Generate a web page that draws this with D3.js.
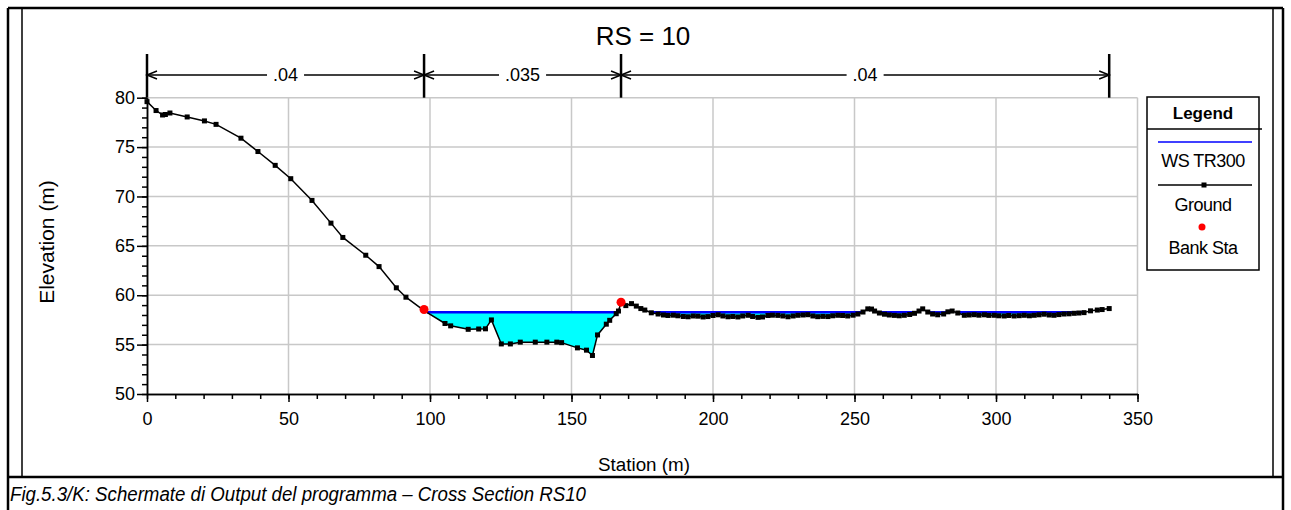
<!DOCTYPE html>
<html>
<head>
<meta charset="utf-8">
<script src="https://cdn.jsdelivr.net/npm/d3@7"></script>
<style>
  html, body { margin: 0; padding: 0; background: #fff; }
  svg { display: block; font-family: "Liberation Sans", Arial, sans-serif; }
</style>
</head>
<body>
<div id="chart"></div>
<script>
// Sezione trasversale RS = 10
const stations = [
  0, 3.2, 5.5, 6.5, 8.1, 14.2, 20.3, 24.4, 33.2, 39.2, 45.3, 50.8, 58.3, 65.0, 69.2, 77.3, 82.0, 88.1, 91.5, 97.9,
  105.3, 107.3, 113.5, 117.2, 119.6, 121.7, 125.2, 128.4, 131.9, 137.2, 141.3, 144.8, 146.5, 152.1, 155.3, 157.4,
  159.2, 162.3, 163.5, 165.8, 166.6, 167.5, 169.2, 171.2, 172.9, 174.5, 175.9, 178.2, 180.6,
  182.5, 184.1, 186.0, 187.6, 189.5, 191.2, 193.0, 194.7, 196.5, 198.2, 200.0, 201.8, 203.5, 205.3, 207.0, 208.8,
  210.5, 212.4, 214.0, 215.9, 217.5, 219.4, 221.0, 222.9, 224.7, 226.5, 228.3, 230.0, 231.8, 233.5, 235.3, 237.0,
  238.8, 240.6, 242.3, 244.1, 245.8, 247.6, 249.5, 251.2, 253.0, 254.7, 256.0, 257.1, 258.8, 260.6, 262.3, 264.1,
  265.8, 267.6, 269.5, 271.2, 272.8, 274.1, 275.9, 277.6, 279.4, 281.5, 283.0, 284.5, 286.5, 288.8, 290.5, 292.3,
  294.0, 295.9, 297.5, 299.4, 301.0, 302.9, 304.5, 306.4, 308.2, 310.0, 311.8, 313.5, 315.2, 317.0, 318.8, 320.5,
  322.2, 324.0, 325.8, 327.6, 329.3, 331.1, 333.4, 335.8, 337.5, 340.0
];
const elevations = [
  79.6, 78.7, 78.25, 78.3, 78.45, 78.05, 77.65, 77.3, 75.9, 74.55, 73.15, 71.8, 69.6, 67.3, 65.85, 64.05, 62.9, 60.75, 59.8, 58.45,
  57.14, 56.9, 56.55, 56.58, 56.6, 57.5, 55.07, 55.07, 55.25, 55.25, 55.25, 55.25, 55.2, 54.67, 54.44, 53.9,
  55.98, 57.07, 57.46, 58.13, 58.4, 59.25, 58.95, 59.15, 58.9, 58.65, 58.5, 58.22, 58.1,
  58.0, 57.95, 57.98, 57.92, 57.85, 57.82, 57.9, 57.88, 57.8, 57.84, 57.95, 58.02, 57.9, 57.82, 57.85, 57.8,
  57.9, 57.97, 57.85, 57.76, 57.8, 57.95, 57.98, 57.96, 57.9, 57.82, 57.9, 57.97, 58.0, 58.03, 57.9, 57.83,
  57.86, 57.84, 57.92, 57.97, 57.95, 57.9, 57.98, 58.1, 58.3, 58.62, 58.6, 58.4, 58.2, 58.08, 58.0, 57.96,
  57.92, 57.97, 58.05, 58.17, 58.4, 58.62, 58.3, 58.1, 58.02, 58.1, 58.32, 58.4, 58.2, 57.97, 58.0, 58.03,
  57.98, 58.02, 57.96, 57.97, 57.92, 57.9, 57.95, 57.9, 57.93, 57.97, 57.92, 57.97, 58.02, 58.08, 58.0, 57.97,
  58.04, 58.1, 58.12, 58.17, 58.2, 58.24, 58.42, 58.5, 58.55, 58.65
];
const bankStations = [97.9, 167.5];
const bankElevations = [58.55, 59.3];
const wsElevation = 58.27;
const nStations = [0, 97.9, 167.5, 340];
const nValues = ['.04', '.035', '.04'];
const xTicks = [0, 50, 100, 150, 200, 250, 300, 350];
const yTicks = [50, 55, 60, 65, 70, 75, 80];
const legendLabels = ['WS TR300', 'Ground', 'Bank Sta'];

const W = 1291, H = 510;
const svg = d3.select("#chart").append("svg")
  .attr("width", W).attr("height", H);

// scale
const x = d3.scaleLinear().domain([0, 350]).range([147, 1137.5]);
const y = d3.scaleLinear().domain([50, 80]).range([394, 97.7]);

const ground = stations.map((s, i) => ({s: s, e: elevations[i]}));

// cornici
svg.append("rect").attr("x", 22).attr("y", 8).attr("width", 1251).attr("height", 469)
  .attr("fill", "none").attr("stroke", "#000").attr("stroke-width", 1.5);
svg.append("path").attr("d", "M8,8H1283M8,477H1283M8,8V512M1283,8V512")
  .attr("fill", "none").attr("stroke", "#000").attr("stroke-width", 2.5);

// griglia
const grid = svg.append("g").attr("stroke", "#c8c8c8").attr("stroke-width", 1.5);
grid.selectAll(".gx").data(xTicks.slice(1)).enter().append("line")
  .attr("x1", d => x(d)).attr("x2", d => x(d)).attr("y1", y(50)).attr("y2", y(80));
grid.selectAll(".gy").data(yTicks.slice(1)).enter().append("line")
  .attr("x1", x(0)).attr("x2", x(350)).attr("y1", d => y(d)).attr("y2", d => y(d));

// zone bagnate (terreno sotto il pelo libero)
function wetRuns(pts, ws) {
  const runs = [];
  let cur = null;
  const cross = (q, p) => ({s: q.s + (q.e - ws) / (q.e - p.e) * (p.s - q.s), e: ws});
  pts.forEach((p, i) => {
    if (p.e < ws) {
      if (!cur) {
        cur = [];
        if (i > 0) cur.push(cross(pts[i - 1], p));
      }
      cur.push(p);
    } else if (cur) {
      cur.push(cross(pts[i - 1], p));
      runs.push(cur);
      cur = null;
    }
  });
  if (cur) runs.push(cur);
  return runs;
}
const runs = wetRuns(ground, wsElevation);

const area = d3.area()
  .x(d => x(d.s))
  .y0(y(wsElevation))
  .y1(d => y(d.e));
svg.append("g").selectAll("path").data(runs).enter().append("path")
  .attr("d", area).attr("fill", "#00ffff");

svg.append("g").selectAll("line").data(runs).enter().append("line")
  .attr("x1", d => x(d[0].s)).attr("x2", d => x(d[d.length - 1].s))
  .attr("y1", y(wsElevation)).attr("y2", y(wsElevation))
  .attr("stroke", "#0000ff").attr("stroke-width", 2.5);

// terreno
const line = d3.line().x(d => x(d.s)).y(d => y(d.e));
svg.append("path").datum(ground)
  .attr("d", line).attr("fill", "none").attr("stroke", "#000").attr("stroke-width", 1.5);
svg.append("g").selectAll("rect").data(ground).enter().append("rect")
  .attr("x", d => x(d.s) - 2.5).attr("y", d => y(d.e) - 2.5)
  .attr("width", 5).attr("height", 5).attr("fill", "#000");

// sponde
svg.append("g").selectAll("circle").data(bankStations).enter().append("circle")
  .attr("cx", d => x(d)).attr("cy", (d, i) => y(bankElevations[i]))
  .attr("r", 4.5).attr("fill", "#ff0000");

// assi
const axisStyle = g => {
  g.select(".domain").attr("stroke", "#000").attr("stroke-width", 1.5);
  g.selectAll(".tick line").attr("stroke", "#000").attr("stroke-width", 1.5);
  g.selectAll("text").attr("fill", "#000").style("font-size", "18px")
    .style("font-family", '"Liberation Sans", Arial, sans-serif');
};
svg.append("g").attr("transform", `translate(${x(0)},0)`)
  .call(d3.axisLeft(y).tickValues(d3.range(50, 81, 1)).tickSize(5).tickFormat("").tickSizeOuter(0))
  .call(axisStyle);
svg.append("g").attr("transform", `translate(${x(0)},0)`)
  .call(d3.axisLeft(y).tickValues(yTicks).tickSize(10).tickPadding(2).tickSizeOuter(0))
  .call(axisStyle);
svg.append("g").attr("transform", `translate(0,${y(50)})`)
  .call(d3.axisBottom(x).tickValues(d3.range(0, 351, 10)).tickSize(5).tickFormat("").tickSizeOuter(0))
  .call(axisStyle);
svg.append("g").attr("transform", `translate(0,${y(50)})`)
  .call(d3.axisBottom(x).tickValues(xTicks).tickSize(8).tickPadding(10).tickSizeOuter(0))
  .call(axisStyle);

svg.append("text").attr("x", 644).attr("y", 471).attr("text-anchor", "middle")
  .style("font-size", "18.8px").text("Station (m)");
svg.append("text").attr("transform", "translate(54,242) rotate(-90)").attr("text-anchor", "middle")
  .style("font-size", "21px").text("Elevation (m)");

// titolo
svg.append("text").attr("x", 643).attr("y", 45).attr("text-anchor", "middle")
  .style("font-size", "26px").text("RS = 10");

// coefficienti di Manning
const dimY = 75;
const dim = svg.append("g");
dim.selectAll(".mark").data(nStations).enter().append("line")
  .attr("x1", d => x(d)).attr("x2", d => x(d)).attr("y1", 54).attr("y2", y(80))
  .attr("stroke", "#000").attr("stroke-width", 2.5);
dim.append("line").attr("x1", x(nStations[0])).attr("x2", x(nStations[nStations.length - 1]))
  .attr("y1", dimY).attr("y2", dimY).attr("stroke", "#000").attr("stroke-width", 1.5);
nValues.forEach((v, i) => {
  const a = x(nStations[i]), b = x(nStations[i + 1]);
  dim.append("path")
    .attr("d", `M${a + 10},${dimY - 4}L${a},${dimY}L${a + 10},${dimY + 4}M${b - 10},${dimY - 4}L${b},${dimY}L${b - 10},${dimY + 4}`)
    .attr("fill", "none").attr("stroke", "#000").attr("stroke-width", 1.5);
  const t = dim.append("text").attr("x", (a + b) / 2).attr("y", dimY + 6).attr("text-anchor", "middle")
    .style("font-size", "18px").text(v);
  const bb = t.node().getBBox();
  dim.insert("rect", "text").attr("x", bb.x - 6).attr("y", dimY - 3).attr("width", bb.width + 12).attr("height", 6)
    .attr("fill", "#fff");
});

// legenda
const lg = svg.append("g");
lg.append("rect").attr("x", 1147).attr("y", 97).attr("width", 112).attr("height", 173)
  .attr("fill", "#fff").attr("stroke", "#000").attr("stroke-width", 1.5);
lg.append("line").attr("x1", 1147).attr("x2", 1262).attr("y1", 129).attr("y2", 129)
  .attr("stroke", "#000").attr("stroke-width", 1.5);
lg.append("text").attr("x", 1203).attr("y", 119).attr("text-anchor", "middle")
  .style("font-size", "17px").style("font-weight", "bold").text("Legend");
lg.append("line").attr("x1", 1158).attr("x2", 1252).attr("y1", 142).attr("y2", 142)
  .attr("stroke", "#0000ff").attr("stroke-width", 1.5);
lg.append("line").attr("x1", 1158).attr("x2", 1252).attr("y1", 185).attr("y2", 185)
  .attr("stroke", "#000").attr("stroke-width", 1.5);
lg.append("rect").attr("x", 1201.5).attr("y", 182.5).attr("width", 5).attr("height", 5).attr("fill", "#000");
lg.append("circle").attr("cx", 1202).attr("cy", 227).attr("r", 3.5).attr("fill", "#ff0000");
lg.selectAll(".lt").data(legendLabels).enter().append("text")
  .attr("x", 1203).attr("y", (d, i) => [167, 211, 254][i]).attr("text-anchor", "middle")
  .style("font-size", "18px").style("letter-spacing", "-0.5px").text(d => d);

// didascalia
svg.append("text").attr("transform", "translate(10,501) scale(0.92,1)")
  .style("font-size", "20.3px").style("font-style", "italic")
  .text("Fig.5.3/K: Schermate di Output del programma \u2013 Cross Section RS10");
</script>
</body>
</html>
